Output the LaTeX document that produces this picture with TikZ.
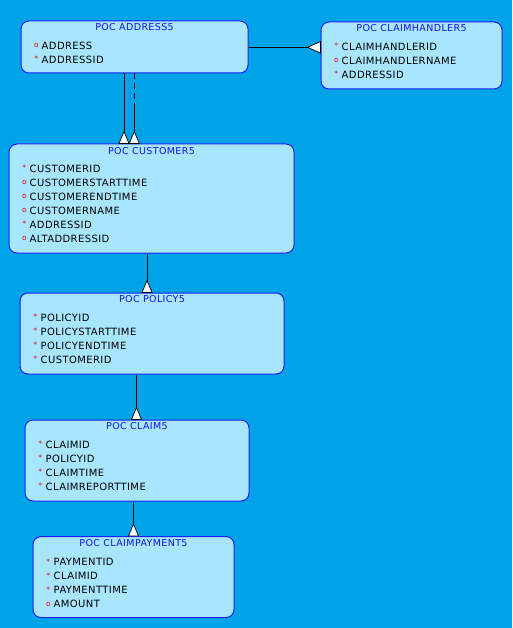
\documentclass[tikz,border=0pt]{standalone}
\usepackage{fontspec}
\setmainfont{DejaVu Sans}
\newfontfamily\attrfont[LetterSpace=4]{DejaVu Sans}
\newfontfamily\ttlfont[LetterSpace=4]{DejaVu Sans}
\usetikzlibrary{calc}
\definecolor{bgc}{RGB}{0,162,232}
\definecolor{boxfill}{RGB}{168,230,254}
\definecolor{boxline}{RGB}{30,30,255}
\definecolor{ttlc}{RGB}{20,20,235}
\definecolor{markc}{RGB}{235,0,0}
\tikzset{
  entity/.style={draw=boxline, fill=boxfill, line width=1pt, rounded corners=8pt,
    anchor=north west, inner sep=0pt},
  ttl/.style={inner sep=0pt, font=\ttlfont\fontsize{9.5}{10}\selectfont, text=ttlc},
  attrtxt/.style={inner sep=0pt, anchor=base west, font=\attrfont\fontsize{10}{11}\selectfont, text=black},
  markt/.style={inner sep=0pt, anchor=base, font=\fontsize{7.5}{8}\selectfont, text=markc},
  conn/.style={draw=black, line width=0.9pt},
  crowv/.pic={\filldraw[fill=white,draw=black,line width=0.7pt] (-5,0) -- (0,-12) -- (5,0) -- cycle;},
  crowh/.pic={\filldraw[fill=white,draw=black,line width=0.7pt] (0,-5.8) -- (-13,0) -- (0,5.8) -- cycle;}
}
\newcommand\erattr[6]{%
  \node[markt] (#1m#2) at (#3+15.8,#4+2.5) {#5};
  \node[attrtxt] (#1a#2) at (#3+21,#4+4) {#6};
}
\begin{document}
\begin{tikzpicture}[x=1pt,y=-1pt]
\fill[bgc] (0,0) rectangle (512,628);
\useasboundingbox (0,0) rectangle (512,628);

% entities
\node[entity, minimum width=227pt, minimum height=52pt] (addr) at (20.5,20.5) {};
\node[ttl] (addrT) at ($(addr.north)+(0,7)$) {POC ADDRESS5};
\erattr{addr}{1}{20.5}{45.3}{o}{ADDRESS}
\erattr{addr}{2}{20.5}{59.3}{*}{ADDRESSID}

\node[entity, minimum width=181pt, minimum height=67pt] (ch) at (320.5,21.5) {};
\node[ttl] (chT) at ($(ch.north)+(0,7)$) {POC CLAIMHANDLER5};
\erattr{ch}{1}{320.5}{46.3}{*}{CLAIMHANDLERID}
\erattr{ch}{2}{320.5}{60.3}{o}{CLAIMHANDLERNAME}
\erattr{ch}{3}{320.5}{74.3}{*}{ADDRESSID}

\node[entity, minimum width=285pt, minimum height=109pt] (cust) at (8.5,143.5) {};
\node[ttl] (custT) at ($(cust.north)+(0,7.2)$) {POC CUSTOMER5};
\erattr{cust}{1}{8.5}{168.3}{*}{CUSTOMERID}
\erattr{cust}{2}{8.5}{182.3}{o}{CUSTOMERSTARTTIME}
\erattr{cust}{3}{8.5}{196.3}{o}{CUSTOMERENDTIME}
\erattr{cust}{4}{8.5}{210.3}{o}{CUSTOMERNAME}
\erattr{cust}{5}{8.5}{224.3}{*}{ADDRESSID}
\erattr{cust}{6}{8.5}{238.3}{o}{ALTADDRESSID}

\node[entity, minimum width=264pt, minimum height=81pt] (pol) at (19.5,292.5) {};
\node[ttl] (polT) at ($(pol.north)+(0,7)$) {POC POLICY5};
\erattr{pol}{1}{19.5}{317.3}{*}{POLICYID}
\erattr{pol}{2}{19.5}{331.3}{*}{POLICYSTARTTIME}
\erattr{pol}{3}{19.5}{345.3}{*}{POLICYENDTIME}
\erattr{pol}{4}{19.5}{359.3}{*}{CUSTOMERID}

\node[entity, minimum width=224pt, minimum height=81pt] (clm) at (24.5,419.5) {};
\node[ttl] (clmT) at ($(clm.north)+(0,7)$) {POC CLAIM5};
\erattr{clm}{1}{24.5}{444.3}{*}{CLAIMID}
\erattr{clm}{2}{24.5}{458.3}{*}{POLICYID}
\erattr{clm}{3}{24.5}{472.3}{*}{CLAIMTIME}
\erattr{clm}{4}{24.5}{486.3}{*}{CLAIMREPORTTIME}

\node[entity, minimum width=201pt, minimum height=81pt] (pay) at (32.5,536) {};
\node[ttl] (payT) at ($(pay.north)+(0,7.5)$) {POC CLAIMPAYMENT5};
\erattr{pay}{1}{32.5}{561.5}{*}{PAYMENTID}
\erattr{pay}{2}{32.5}{575.5}{*}{CLAIMID}
\erattr{pay}{3}{32.5}{589.5}{*}{PAYMENTTIME}
\erattr{pay}{4}{32.5}{603.5}{o}{AMOUNT}

% connector guide coordinates
\coordinate (xa) at (124,0);
\coordinate (xb) at (134.3,0);
\coordinate (yb) at (0,108);
\coordinate (yc) at (0,47.3);
\coordinate (xd) at (147,0);
\coordinate (xe) at (136.5,0);
\coordinate (xf) at (133.5,0);

% connectors
\draw[conn] (addr.south -| xa) -- (cust.north -| xa);
\draw[conn, dash pattern=on 6pt off 4pt] (addr.south -| xb) -- (xb |- yb);
\draw[conn] (xb |- yb) -- (cust.north -| xb);
\draw[conn] (addr.east |- yc) -- (ch.west |- yc);
\draw[conn] (cust.south -| xd) -- (pol.north -| xd);
\draw[conn] (pol.south -| xe) -- (clm.north -| xe);
\draw[conn] (clm.south -| xf) -- (pay.north -| xf);

% crow's feet
\pic at (cust.north -| xa) {crowv};
\pic at (cust.north -| xb) {crowv};
\pic at (ch.west |- yc) {crowh};
\pic at (pol.north -| xd) {crowv};
\pic at (clm.north -| xe) {crowv};
\pic at (pay.north -| xf) {crowv};
\end{tikzpicture}
\end{document}
